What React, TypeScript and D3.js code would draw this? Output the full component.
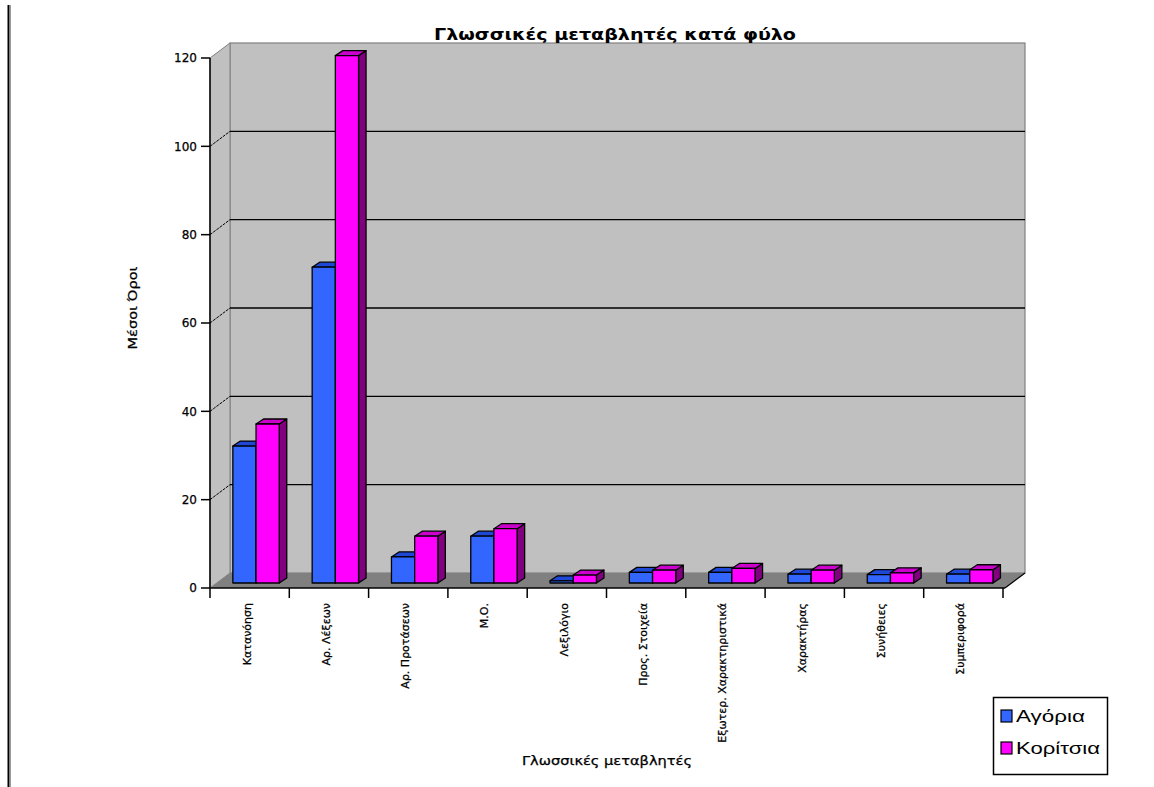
import React from "react";
import * as d3 from "d3";

// Mean scores of language variables, by gender
const categories = [
  "Κατανόηση",
  "Αρ. Λέξεων",
  "Αρ. Προτάσεων",
  "Μ.Ο.",
  "Λεξιλόγιο",
  "Προς. Στοιχεία",
  "Εξωτερ. Χαρακτηριστικά",
  "Χαρακτήρας",
  "Συνήθειες",
  "Συμπεριφορά",
];
const seriesNames = ["Αγόρια", "Κορίτσια"];
const boys = [31.0, 71.5, 5.9, 10.6, 0.5, 2.4, 2.4, 2.0, 1.9, 2.0];
const girls = [36.0, 119.4, 10.6, 12.3, 1.8, 2.9, 3.3, 2.9, 2.3, 3.0];
const yTicks = [0, 20, 40, 60, 80, 100, 120];

const W = 1154;
const H = 787;

// chart frame (front plane) and 3D depth of the walls
const left = 210;
const right = 1003;
const bottom = 588;
const top = 58;
const DX = 20;
const DY = -15;
// bars stand one third into the floor, with their own depth
const BOX = 7;
const BOY = -5;
const BDX = 7.5;
const BDY = -5;

const palette = [
  { front: "#3366ff", top: "#1f47d6", side: "#1a33a0" },
  { front: "#ff00ff", top: "#cc00cc", side: "#800080" },
];
const legendWidths = [69, 84];

export default function App() {
  const y = d3.scaleLinear().domain([0, 120]).range([bottom, top]);
  const x0 = d3.scaleBand<string>().domain(categories).range([left, right]).padding(0);
  const bw = x0.bandwidth();
  const x1 = d3
    .scaleBand<string>()
    .domain(seriesNames)
    .range([bw * 0.2, bw * 0.785])
    .padding(0);
  const barW = x1.bandwidth();
  const values = [boys, girls];

  const floorPts = [
    [left, bottom],
    [left + DX, bottom + DY],
    [right + 2 + DX, bottom + DY],
    [right + 2, bottom],
  ];
  const wallPts = [
    [left, y(120)],
    [left + DX, y(120) + DY],
    [left + DX, bottom + DY],
    [left, bottom],
  ];
  const pts = (p: number[][]) => p.map((d) => d.join(",")).join(" ");

  const bars: React.ReactNode[] = [];
  categories.forEach((c, i) => {
    seriesNames.forEach((s, k) => {
      const v = values[k][i];
      const xl = (x0(c) as number) + (x1(s) as number) + BOX;
      const xr = xl + barW;
      const yt = y(v) + BOY;
      const yb = y(0) + BOY;
      const col = palette[k];
      bars.push(
        <g key={`${i}-${k}`} stroke="#000" strokeWidth={1.3} strokeLinejoin="round">
          <polygon
            points={pts([
              [xr, yt],
              [xr + BDX, yt + BDY],
              [xr + BDX, yb + BDY],
              [xr, yb],
            ])}
            fill={col.side}
          />
          <polygon
            points={pts([
              [xl, yt],
              [xl + BDX, yt + BDY],
              [xr + BDX, yt + BDY],
              [xr, yt],
            ])}
            fill={col.top}
          />
          <rect x={xl} y={yt} width={barW} height={yb - yt} fill={col.front} />
        </g>
      );
    });
  });

  const smallText = {
    fontFamily: "'DejaVu Sans', sans-serif",
    stroke: "#000",
    strokeWidth: 0.25,
    fill: "#000",
  } as const;

  return (
    <svg
      width={W}
      height={H}
      style={{ position: "absolute", left: 0, top: 0, background: "#fff" }}
      fontFamily="'Liberation Sans', Arial, sans-serif"
    >
      {/* page edge rule */}
      <line x1={8.5} y1={5} x2={8.5} y2={H} stroke="#000" strokeWidth={2} />
      <line x1={10.5} y1={5} x2={10.5} y2={H} stroke="#9a9a9a" strokeWidth={1} />

      {/* walls and floor */}
      <rect
        x={left + DX}
        y={y(120) + DY}
        width={right + 2 - left}
        height={bottom - y(120)}
        fill="#c0c0c0"
        stroke="#808080"
        strokeWidth={1.2}
      />
      <polygon points={pts(wallPts)} fill="#c0c0c0" stroke="#808080" strokeWidth={1} />
      <polygon points={pts(floorPts)} fill="#808080" />
      <line
        x1={right + 2}
        y1={bottom}
        x2={right + 2 + DX}
        y2={bottom + DY}
        stroke="#000"
        strokeWidth={1.3}
      />

      {/* gridlines on the back and left walls */}
      {yTicks
        .filter((t) => t > 0 && t < 120)
        .map((t) => (
          <g key={t} stroke="#000" strokeWidth={1.4}>
            <line x1={left + DX} y1={y(t) + DY} x2={right + 2 + DX} y2={y(t) + DY} />
            <line x1={left} y1={y(t)} x2={left + DX} y2={y(t) + DY} strokeWidth={1} strokeDasharray="3,1" />
          </g>
        ))}

      {bars}

      {/* y axis */}
      <line x1={left} y1={y(120)} x2={left} y2={bottom} stroke="#000" strokeWidth={1.5} />
      {yTicks.map((t) => (
        <g key={t}>
          <line x1={left - 9} y1={y(t)} x2={left} y2={y(t)} stroke="#000" strokeWidth={1.5} />
          <text x={left - 13} y={y(t)} dy="0.35em" textAnchor="end" fontSize={12} {...smallText}>
            {t}
          </text>
        </g>
      ))}

      {/* x axis */}
      <line x1={left} y1={bottom} x2={right + 2} y2={bottom} stroke="#000" strokeWidth={1.5} />
      {[...categories.map((c) => x0(c) as number), right].map((xv, i) => (
        <line key={i} x1={xv} y1={bottom} x2={xv} y2={bottom + 10} stroke="#000" strokeWidth={1.5} />
      ))}
      {categories.map((c) => {
        const cx = (x0(c) as number) + bw / 2 - 3;
        return (
          <text
            key={c}
            transform={`translate(${cx},${bottom + 15}) rotate(-90)`}
            dy="0.35em"
            textAnchor="end"
            fontSize={11}
            {...smallText}
          >
            {c}
          </text>
        );
      })}

      {/* titles */}
      <text
        x={615}
        y={40}
        textAnchor="middle"
        fontSize={16}
        fontWeight="bold"
        fontFamily="'DejaVu Sans', sans-serif"
        textLength={362}
        lengthAdjust="spacingAndGlyphs"
      >
        Γλωσσικές μεταβλητές κατά φύλο
      </text>
      <text
        transform="translate(137,308) rotate(-90)"
        textAnchor="middle"
        fontSize={12}
        textLength={83}
        lengthAdjust="spacingAndGlyphs"
        {...smallText}
      >
        Μέσοι Όροι
      </text>
      <text
        x={607}
        y={765}
        textAnchor="middle"
        fontSize={12}
        textLength={170}
        lengthAdjust="spacingAndGlyphs"
        {...smallText}
      >
        Γλωσσικές μεταβλητές
      </text>

      {/* legend */}
      <rect x={993.5} y={697.5} width={114} height={77} fill="#fff" stroke="#000" strokeWidth={1.5} />
      {seriesNames.map((s, k) => (
        <g key={s} transform={`translate(1001,${710 + k * 32})`}>
          <rect x={0} y={0} width={11} height={12} fill={palette[k].front} stroke="#000" strokeWidth={1.2} />
          <text
            x={15}
            y={6}
            dy="0.36em"
            fontSize={17}
            textLength={legendWidths[k]}
            lengthAdjust="spacingAndGlyphs"
          >
            {s}
          </text>
        </g>
      ))}
    </svg>
  );
}
